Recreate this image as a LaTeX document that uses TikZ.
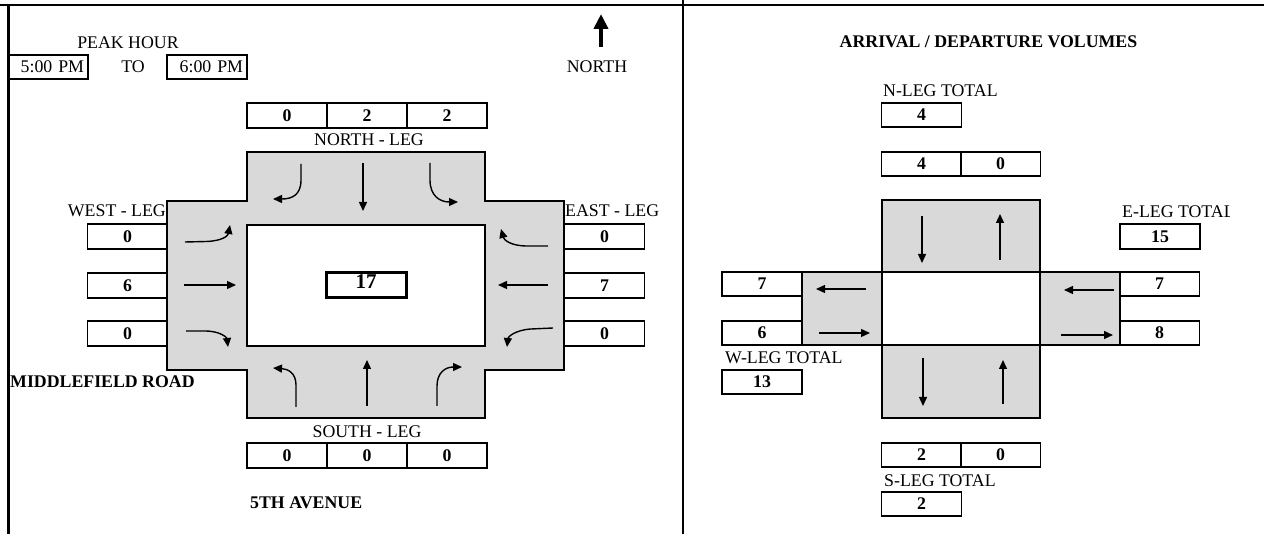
\documentclass[tikz,border=0pt]{standalone}
\usepackage{fontspec}
\setmainfont{Liberation Serif}
\usetikzlibrary{arrows.meta}
\definecolor{lg}{RGB}{217,217,217}
\newcommand\fsz{\fontsize{17.8pt}{20pt}\selectfont}
\newcommand\fbig{\fontsize{21pt}{24pt}\selectfont}
\begin{document}
\begin{tikzpicture}[x=1pt,y=-1pt,
 cell/.style={draw, line width=1.9pt, minimum width=80pt, minimum height=24.5pt, inner sep=0pt, font=\fsz\bfseries},
 lbl/.style={inner sep=0pt, font=\fsz},
 blbl/.style={inner sep=0pt, font=\fsz\bfseries},
 tbox/.style={draw, line width=1.9pt, text width=72pt, align=right, inner sep=4pt, minimum height=24.5pt, font=\fsz},
 road/.style={fill=lg, draw, line width=1.9pt},
 inner/.style={fill=white, draw, line width=1.9pt},
 mv/.style={line width=1.4pt, -{Triangle[length=9pt,width=8pt]}},
 frame/.style={line width=2.8pt}]
\useasboundingbox (0,0) rectangle (1264,534);

% frame
\draw[frame] (0,5) -- (1264,5);
\draw[frame] (8.5,5) -- (8.5,534);
\draw[line width=2pt] (683,0) -- (683,534);

% header left
\node[lbl] (peak) at (128,43) {PEAK HOUR};
\node[tbox] (from) at (48,67) {5:00 PM};
\node[lbl] (to) at (133,67) {TO};
\node[tbox] (till) at (207,67) {6:00 PM};
\draw[line width=4pt, -{Triangle[length=15pt,width=14pt]}] (601,47) -- (601,14);
\node[lbl] (north) at (597,67) {NORTH};

% left intersection
\path[road] (247,152) -- (485,152) -- (485,201) -- (564,201) -- (564,370) -- (485,370) -- (485,418) -- (247,418) -- (247,370) -- (167,370) -- (167,201) -- (247,201) -- cycle;
\path[inner] (247,225) rectangle (485,346);
\node[draw, line width=3pt, minimum width=80pt, minimum height=25pt, inner sep=0pt] (tot) at (366,285.5) {};
\node[inner sep=0pt, font=\fbig\bfseries] (totv) at (366,282) {17};

% north leg
\node[cell] (n1) at (287,115.5) {0};
\node[cell] (n2) at (367,115.5) {2};
\node[cell] (n3) at (447,115.5) {2};
\node[lbl] (nleg) at (369,140) {NORTH - LEG};
% west leg
\node[lbl, anchor=east] (wleg) at (166,211) {WEST - LEG};
\node[cell] (w1) at (127.5,236.5) {0};
\node[cell] (w2) at (127.5,285.5) {6};
\node[cell] (w3) at (127.5,333.5) {0};
% east leg
\node[lbl, anchor=west] (eleg) at (565,211) {EAST - LEG};
\node[cell] (e1) at (604.5,236.5) {0};
\node[cell] (e2) at (604.5,285.5) {7};
\node[cell] (e3) at (604.5,333.5) {0};
% south leg
\node[lbl] (sleg) at (367,432) {SOUTH - LEG};
\node[cell] (s1) at (287,455.5) {0};
\node[cell] (s2) at (367,455.5) {0};
\node[cell] (s3) at (447,455.5) {0};

\node[blbl, anchor=west] (mid) at (10,382) {MIDDLEFIELD ROAD};
\node[blbl, anchor=west] (fifth) at (250,503) {5TH AVENUE};

% movement arrows, left intersection
\draw[mv] (301,164) -- (301,180) .. controls (301,195) and (292,199) .. (273,199);
\draw[mv] (363,163) -- (363,211);
\draw[mv] (430,163) -- (430,180) .. controls (430,196) and (440,202) .. (458,202);
\draw[mv] (185,242) -- (206,241.5) .. controls (222,241) and (228,236) .. (230,225);
\draw[mv] (184,285) -- (236,285);
\draw[mv] (186,331) -- (205,331) .. controls (221,331) and (227,338) .. (228,347);
\draw[mv] (548,246) -- (527,246) .. controls (511,246) and (504,240) .. (501,229);
\draw[mv] (548,285) -- (498,285);
\draw[mv] (553,328) -- (531,329) .. controls (515,330) and (508,337) .. (507,347);
\draw[mv] (296,407) -- (296,385) .. controls (296,373) and (288,369) .. (273,368);
\draw[mv] (367,406) -- (367,360);
\draw[mv] (437,406) -- (437,386) .. controls (437,373) and (445,367) .. (462,367);

% right side
\node[blbl] (adv) at (988.5,42) {ARRIVAL / DEPARTURE VOLUMES};
\node[lbl, anchor=west] (nt) at (883,91) {N-LEG TOTAL};
\node[cell] (ntv) at (921.5,115) {4};
\node[cell] (rn1) at (921.5,164) {4};
\node[cell] (rn2) at (1000.5,164) {0};
\path[road] (882,200) rectangle (1040,272);
\path[road] (802,272) rectangle (882,345);
\path[road] (1040,272) rectangle (1120,345);
\path[road] (882,345) rectangle (1040,418);
\path[inner] (882,272) rectangle (1040,345);
\begin{scope}
\clip (1100,195) rectangle (1229.5,235);
\node[lbl, anchor=west] (et) at (1122,212) {E-LEG TOTAL};
\end{scope}
\node[cell] (etv) at (1160,236.5) {15};
\node[cell] (rw1) at (762,284) {7};
\node[cell] (rw2) at (762,333) {6};
\node[cell] (re1) at (1159.5,284) {7};
\node[cell] (re2) at (1159.5,333) {8};
\node[lbl, anchor=west] (wt) at (725,358) {W-LEG TOTAL};
\node[cell] (wtv) at (762,382) {13};
\node[cell] (rs1) at (921.5,455) {2};
\node[cell] (rs2) at (1000.5,455) {0};
\node[lbl, anchor=west] (st) at (884,481) {S-LEG TOTAL};
\node[cell] (stv) at (921.5,504) {2};

% movement arrows, right
\draw[mv] (922,216) -- (922,263);
\draw[mv] (1000,260) -- (1000,214);
\draw[mv] (866,289) -- (816,289);
\draw[mv] (819,333) -- (870,333);
\draw[mv] (1114,290) -- (1064,290);
\draw[mv] (1061,335) -- (1113,335);
\draw[mv] (923,358) -- (923,406);
\draw[mv] (1003,404) -- (1003,360);
\end{tikzpicture}
\end{document}
